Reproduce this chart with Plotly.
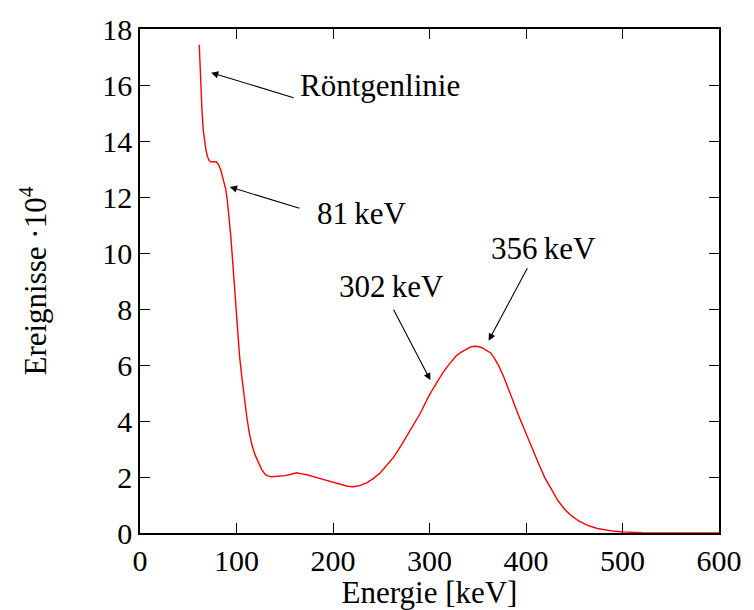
import plotly.graph_objects as go

energy = [61.4, 62.2, 63.1, 64.2, 65.5, 66.8, 68.2, 69.8, 71.6, 73.3, 75.0, 77.0, 79.1, 80.5, 81.9,
          83.6, 85.3, 87.0, 88.7, 90.4, 92.1, 93.8, 95.5, 97.0, 98.3,
          100.7, 103.2, 105.8, 108.3, 110.9, 113.4, 116.0, 119.4, 122.8, 126.2, 129.7, 133.0, 136.5,
          143.0, 150.1, 156.0, 162.0, 168.0, 174.0, 184.0, 194.5, 201.0,
          208.1, 215.0, 221.8, 228.5, 235.4, 242.0, 249.0, 255.5, 262.7, 271.0, 279.7, 290.0,
          300.2, 307.0, 313.9, 320.5, 327.5, 332.5, 337.8, 342.0,
          346.3, 350.5, 354.8, 359.0, 363.4, 367.5, 371.9, 377.0, 382.1, 387.0, 392.3, 399.0, 406.0,
          413.0, 419.6, 426.5, 433.2, 440.0, 446.9, 455.0, 463.9, 474.0,
          484.4, 492.0, 499.7, 510.0, 520.0, 535.0, 550.0, 575.0, 600.0]
counts = [17.44, 16.60, 15.94, 15.10, 14.41, 14.00, 13.71, 13.45, 13.30, 13.26, 13.26, 13.27, 13.26, 13.20, 13.12,
          12.97, 12.77, 12.55, 12.30, 11.90, 11.36, 10.70, 9.95, 9.20, 8.60,
          7.25, 6.30, 5.49, 4.75, 4.08, 3.55, 3.14, 2.78, 2.50, 2.26, 2.09, 2.03, 2.01,
          2.02, 2.05, 2.09, 2.15, 2.11, 2.07, 1.97, 1.86, 1.79,
          1.72, 1.67, 1.65, 1.70, 1.80, 1.95, 2.15, 2.40, 2.70, 3.15, 3.65, 4.25,
          4.95, 5.35, 5.73, 6.03, 6.32, 6.45, 6.55, 6.64,
          6.67, 6.66, 6.61, 6.53, 6.43, 6.23, 5.96, 5.57, 5.14, 4.68, 4.20, 3.62, 3.03,
          2.48, 1.97, 1.53, 1.15, 0.85, 0.62, 0.42, 0.27, 0.16,
          0.09, 0.06, 0.04, 0.02, 0.01, 0.006, 0.003, 0.001, 0.0]

ann_text = ["Röntgenlinie", "81\u2009keV", "302\u2009keV", "356\u2009keV"]
ann_head_x = [73.7, 93.1, 300.9, 361.3]
ann_head_y = [16.44, 12.36, 5.46, 6.87]
ann_tail_x = [160.7, 166.8, 262.0, 402.2]
ann_tail_y = [15.53, 11.58, 8.03, 9.51]
ann_label_x = [249.0, 230.0, 261.0, 418.0]
ann_label_y = [16.0, 11.4, 8.8, 10.15]

font_family = "'Liberation Serif'"

fig = go.Figure()
fig.add_trace(go.Scatter(x=energy, y=counts, mode="lines",
                         line=dict(color="#ff0000", width=1.4),
                         showlegend=False, hoverinfo="skip"))

for t, hx, hy, tx, ty, lx, ly in zip(ann_text, ann_head_x, ann_head_y, ann_tail_x,
                                      ann_tail_y, ann_label_x, ann_label_y):
    fig.add_annotation(x=hx, y=hy, ax=tx, ay=ty, xref="x", yref="y", axref="x", ayref="y",
                       text="", showarrow=True, arrowhead=2, arrowsize=1.3, arrowwidth=1.1,
                       arrowcolor="black", standoff=0)
    fig.add_annotation(x=lx, y=ly, xref="x", yref="y", text=t, showarrow=False,
                       font=dict(size=31, color="black", family=font_family))

axis_common = dict(showline=True, linecolor="black", linewidth=1.5, mirror="ticks",
                   ticks="inside", ticklen=10, tickwidth=1.2, tickcolor="black",
                   showgrid=False, zeroline=False,
                   tickfont=dict(size=30, color="black", family=font_family))

fig.update_xaxes(range=[0, 600], dtick=100, title=dict(text="Energie [keV]", standoff=0,
                 font=dict(size=31, color="black", family=font_family)), **axis_common)
fig.update_yaxes(range=[0, 18], dtick=2, title=dict(text="Ereignisse ·10<sup>4</sup>", standoff=46,
                 font=dict(size=31, color="black", family=font_family)), **axis_common)

fig.update_layout(width=754, height=610, plot_bgcolor="white", paper_bgcolor="white",
                  font=dict(family=font_family, color="black"),
                  margin=dict(l=140, r=28, t=25, b=74))

fig.write_html("out.html")
